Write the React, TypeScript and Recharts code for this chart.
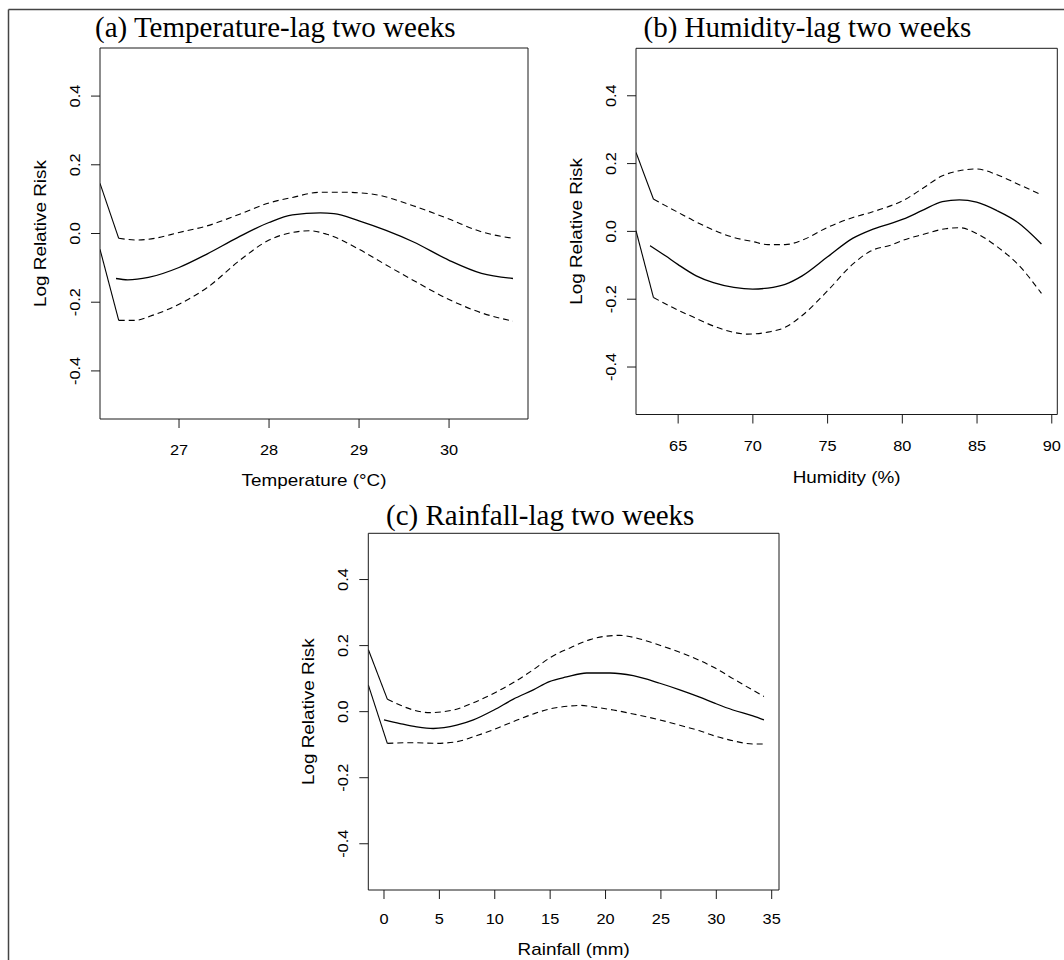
import React from 'react';
import { LineChart, Line, XAxis, YAxis, ReferenceLine } from 'recharts';

const W = 1064;
const H = 960;
const SANS = '"Liberation Sans", Arial, Helvetica, sans-serif';
const SERIF = '"Liberation Serif", "Times New Roman", Times, serif';

// ---------- shared ----------
const Y_DOMAIN: [number, number] = [-0.54, 0.54];
const Y_TICKS = [-0.4, -0.2, 0, 0.2, 0.4];
const Y_LABEL = 'Log Relative Risk';

// ---------- (a) Temperature ----------
const tempTitle = '(a) Temperature-lag two weeks';
const tempAxisLabel = 'Temperature (\u00B0C)';
const tempTicks = [27, 28, 29, 30];
const tempFitX = [26.30, 26.43, 26.66, 27.0, 27.31, 27.65, 28.0, 28.26, 28.57, 28.72, 29.0, 29.3, 29.6, 30.0, 30.36, 30.71];
const tempFitY = [-0.131, -0.135, -0.128, -0.099, -0.06, -0.012, 0.032, 0.054, 0.06, 0.058, 0.037, 0.009, -0.024, -0.078, -0.116, -0.131];
const tempUpX = [26.33, 26.54, 26.73, 27.0, 27.31, 27.69, 28.0, 28.26, 28.57, 28.83, 29.14, 29.6, 30.0, 30.36, 30.71];
const tempUpY = [-0.014, -0.019, -0.014, 0.003, 0.022, 0.058, 0.089, 0.105, 0.12, 0.12, 0.115, 0.081, 0.042, 0.005, -0.014];
const tempLoX = [26.33, 26.5, 26.73, 27.0, 27.31, 27.69, 28.0, 28.26, 28.45, 28.64, 29.0, 29.29, 29.6, 30.0, 30.36, 30.71];
const tempLoY = [-0.253, -0.253, -0.236, -0.206, -0.158, -0.075, -0.019, 0.003, 0.008, -0.002, -0.046, -0.09, -0.136, -0.192, -0.231, -0.255];
const tempLeadUpX = [26.122, 26.33];
const tempLeadUpY = [0.146, -0.014];
const tempLeadLoX = [26.122, 26.33];
const tempLeadLoY = [-0.046, -0.253];

// ---------- (b) Humidity ----------
const humTitle = '(b) Humidity-lag two weeks';
const humAxisLabel = 'Humidity (%)';
const humTicks = [65, 70, 75, 80, 85, 90];
const humFitX = [63.12, 64.15, 65.0, 66.21, 67.36, 68.73, 69.99, 71.0, 72.16, 73.3, 75.0, 76.7, 77.88, 79.25, 80.05, 81.3, 82.68, 83.82, 84.97, 86.34, 87.71, 89.31];
const humFitY = [-0.042, -0.072, -0.098, -0.131, -0.151, -0.165, -0.17, -0.167, -0.156, -0.131, -0.075, -0.02, 0.004, 0.024, 0.036, 0.061, 0.088, 0.093, 0.086, 0.061, 0.027, -0.037];
const humUpX = [63.35, 64.15, 65.0, 65.98, 67.36, 68.73, 69.99, 71.0, 72.16, 73.3, 75.0, 76.7, 77.88, 79.25, 80.05, 81.3, 82.68, 83.82, 84.97, 86.34, 87.71, 89.31];
const humUpY = [0.095, 0.076, 0.056, 0.033, 0.004, -0.018, -0.03, -0.039, -0.039, -0.026, 0.012, 0.041, 0.056, 0.076, 0.091, 0.125, 0.164, 0.179, 0.184, 0.167, 0.14, 0.108];
const humLoX = [63.35, 64.61, 65.98, 67.36, 68.73, 69.64, 71.0, 72.16, 73.3, 75.0, 76.7, 77.88, 79.25, 80.05, 81.3, 82.9, 83.82, 84.97, 86.34, 87.71, 89.31];
const humLoY = [-0.195, -0.224, -0.252, -0.279, -0.298, -0.303, -0.297, -0.283, -0.248, -0.175, -0.096, -0.058, -0.04, -0.026, -0.01, 0.008, 0.011, -0.006, -0.045, -0.096, -0.183];
const humLeadUpX = [62.18, 63.35];
const humLeadUpY = [0.233, 0.095];
const humLeadLoX = [62.18, 63.35];
const humLeadLoY = [0.002, -0.195];

// ---------- (c) Rainfall ----------
const rainTitle = '(c) Rainfall-lag two weeks';
const rainAxisLabel = 'Rainfall (mm)';
const rainTicks = [0, 5, 10, 15, 20, 25, 30, 35];
const rainFitX = [0.0, 1.44, 2.95, 4.45, 6.56, 8.07, 9.93, 11.68, 13.48, 14.93, 16.49, 18.3, 20.4, 22.5, 24.9, 26.7, 28.5, 29.9, 31.5, 33.3, 34.3];
const rainFitY = [-0.025, -0.036, -0.046, -0.051, -0.041, -0.025, 0.005, 0.038, 0.066, 0.091, 0.105, 0.117, 0.117, 0.109, 0.086, 0.066, 0.044, 0.025, 0.005, -0.013, -0.025];
const rainUpX = [0.3, 1.44, 2.65, 4.15, 6.26, 8.07, 9.93, 11.68, 13.48, 14.93, 16.79, 18.6, 19.9, 21.3, 23.1, 24.9, 26.7, 28.5, 29.9, 31.5, 33.3, 34.3];
const rainUpY = [0.038, 0.02, 0.005, -0.003, 0.005, 0.027, 0.056, 0.088, 0.127, 0.162, 0.193, 0.218, 0.228, 0.231, 0.22, 0.201, 0.18, 0.155, 0.132, 0.1, 0.065, 0.046];
const rainLoX = [0.3, 2.65, 4.75, 6.56, 8.07, 9.93, 11.68, 13.48, 14.93, 16.79, 17.7, 19.2, 20.7, 22.5, 24.9, 26.7, 28.5, 29.9, 31.5, 33.3, 34.3];
const rainLoY = [-0.096, -0.094, -0.096, -0.091, -0.076, -0.054, -0.03, -0.007, 0.008, 0.017, 0.019, 0.013, 0.005, -0.007, -0.025, -0.041, -0.058, -0.074, -0.088, -0.098, -0.098];
const rainLeadUpX = [-1.417, 0.3];
const rainLeadUpY = [0.188, 0.038];
const rainLeadLoX = [-1.417, 0.3];
const rainLeadLoY = [0.081, -0.096];

const zip = (xs: number[], ys: number[]) => xs.map((x, i) => ({ x, y: ys[i] }));

type Pt = { x: number; y: number };
type Cfg = {
  title: string;
  titleX: number;
  titleY: number;
  xLabel: string;
  left: number;
  top: number;
  right: number;
  bottom: number;
  xDomain: [number, number];
  xTicks: number[];
  xTickDy: number;
  xLabelDy: number;
  fit: Pt[];
  up: Pt[];
  lo: Pt[];
  leadUp: Pt[];
  leadLo: Pt[];
};

const panels: Cfg[] = [
  {
    title: tempTitle, titleX: 95, titleY: 37, xLabel: tempAxisLabel,
    left: 100, top: 48, right: 528, bottom: 419,
    xDomain: [26.122, 30.877], xTicks: tempTicks, xTickDy: 36, xLabelDy: 66.7,
    fit: zip(tempFitX, tempFitY), up: zip(tempUpX, tempUpY), lo: zip(tempLoX, tempLoY),
    leadUp: zip(tempLeadUpX, tempLeadUpY), leadLo: zip(tempLeadLoX, tempLeadLoY),
  },
  {
    title: humTitle, titleX: 643.5, titleY: 37, xLabel: humAxisLabel,
    left: 636, top: 48.3, right: 1057.3, bottom: 414.5,
    xDomain: [62.18, 90.37], xTicks: humTicks, xTickDy: 36, xLabelDy: 68,
    fit: zip(humFitX, humFitY), up: zip(humUpX, humUpY), lo: zip(humLoX, humLoY),
    leadUp: zip(humLeadUpX, humLeadUpY), leadLo: zip(humLeadLoX, humLeadLoY),
  },
  {
    title: rainTitle, titleX: 386, titleY: 525, xLabel: rainAxisLabel,
    left: 368.3, top: 533.3, right: 779, bottom: 890,
    xDomain: [-1.417, 35.66], xTicks: rainTicks, xTickDy: 34, xLabelDy: 64.5,
    fit: zip(rainFitX, rainFitY), up: zip(rainUpX, rainUpY), lo: zip(rainLoX, rainLoY),
    leadUp: zip(rainLeadUpX, rainLeadUpY), leadLo: zip(rainLeadLoX, rainLeadLoY),
  },
];

const AXIS_COLOR = '#1a1a1a';

function XTitle(props: any) {
  const { tx, ty, txt } = props;
  return (
    <text transform={`translate(${tx},${ty}) scale(1.18,1)`} textAnchor="middle" fontFamily={SANS} fontSize={16} fill="#000">
      {txt}
    </text>
  );
}

function YTitle(props: any) {
  const { tx, ty, txt } = props;
  return (
    <text transform={`translate(${tx},${ty}) rotate(-90) scale(1.18,1)`} textAnchor="middle" fontFamily={SANS} fontSize={16} fill="#000">
      {txt}
    </text>
  );
}

function Panel({ cfg }: { cfg: Cfg }) {
  const Yw = 80;
  const Xh = 60;
  const margin = { top: cfg.top, left: cfg.left - Yw, right: W - cfg.right, bottom: H - cfg.bottom - Xh };
  const xTick = (p: any) => (
    <text
      transform={`translate(${p.x},${cfg.bottom + cfg.xTickDy}) scale(1.09,1)`}
      textAnchor="middle"
      fontFamily={SANS}
      fontSize={15}
      fill="#000"
    >
      {String(p.payload.value)}
    </text>
  );
  const yTick = (p: any) => (
    <text
      transform={`translate(${cfg.left - 20},${p.y}) rotate(-90) scale(1.09,1)`}
      textAnchor="middle"
      fontFamily={SANS}
      fontSize={15}
      fill="#000"
    >
      {Number(p.payload.value).toFixed(1)}
    </text>
  );
  const cx = (cfg.left + cfg.right) / 2;
  const cy = (cfg.top + cfg.bottom) / 2;
  return (
    <div style={{ position: 'absolute', left: 0, top: 0, width: W, height: H }}>
      <LineChart width={W} height={H} margin={margin}>
        <XAxis
          type="number"
          dataKey="x"
          domain={cfg.xDomain}
          allowDataOverflow
          ticks={cfg.xTicks}
          interval={0}
          tickSize={9}
          height={Xh}
          stroke={AXIS_COLOR}
          tick={xTick}
          label={<XTitle tx={cx} ty={cfg.bottom + cfg.xLabelDy} txt={cfg.xLabel} />}
        />
        <YAxis
          type="number"
          domain={Y_DOMAIN}
          allowDataOverflow
          ticks={Y_TICKS}
          interval={0}
          tickSize={9}
          width={Yw}
          stroke={AXIS_COLOR}
          tick={yTick}
          label={<YTitle tx={cfg.left - 54} ty={cy} txt={Y_LABEL} />}
        />
        <ReferenceLine y={Y_DOMAIN[1]} stroke={AXIS_COLOR} strokeWidth={1} ifOverflow="visible" />
        <ReferenceLine x={cfg.xDomain[1]} stroke={AXIS_COLOR} strokeWidth={1} ifOverflow="visible" />
        <Line data={cfg.leadUp} dataKey="y" type="linear" stroke="#000" strokeWidth={1.1} dot={false} activeDot={false} isAnimationActive={false} />
        <Line data={cfg.leadLo} dataKey="y" type="linear" stroke="#000" strokeWidth={1.1} dot={false} activeDot={false} isAnimationActive={false} />
        <Line data={cfg.up} dataKey="y" type="monotone" stroke="#000" strokeWidth={1.1} strokeDasharray="6 4" dot={false} activeDot={false} isAnimationActive={false} />
        <Line data={cfg.lo} dataKey="y" type="monotone" stroke="#000" strokeWidth={1.1} strokeDasharray="6 4" dot={false} activeDot={false} isAnimationActive={false} />
        <Line data={cfg.fit} dataKey="y" type="monotone" stroke="#000" strokeWidth={1.3} dot={false} activeDot={false} isAnimationActive={false} />
      </LineChart>
    </div>
  );
}

export default function App() {
  return (
    <div style={{ position: 'absolute', left: 0, top: 0, width: W, height: H, background: '#fff', overflow: 'hidden' }}>
      <svg width={W} height={H} style={{ position: 'absolute', left: 0, top: 0 }}>
        <line x1={8.5} y1={9.5} x2={W} y2={9.5} stroke="#444" strokeWidth={1.5} />
        <line x1={8.5} y1={9.5} x2={8.5} y2={H} stroke="#444" strokeWidth={1.5} />
        {panels.map((p) => (
          <text key={p.title} x={p.titleX} y={p.titleY} fontFamily={SERIF} fontSize={29} fill="#000">
            {p.title}
          </text>
        ))}
      </svg>
      {panels.map((p) => (
        <Panel key={p.title} cfg={p} />
      ))}
    </div>
  );
}
